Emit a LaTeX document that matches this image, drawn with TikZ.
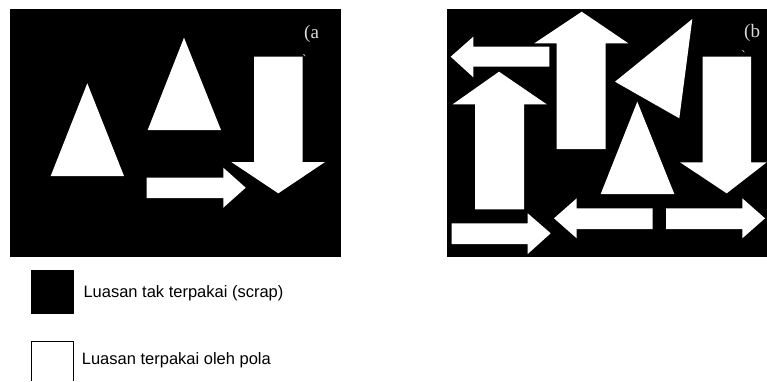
\documentclass[tikz,border=0pt]{standalone}
\usepackage{fontspec}
\setmainfont{Liberation Sans}
\newfontfamily\labfont{Liberation Serif}
\begin{document}
\begin{tikzpicture}[x=1pt,y=-1pt,
  sheet/.style={fill=black},
  piece/.style={fill=white},
  panellabel/.style={text=white!85!black,inner sep=0pt,anchor=west},
  legendtext/.style={font=\fontsize{16.5}{18}\selectfont,inner sep=0pt,anchor=west}]
\useasboundingbox (0,0) rectangle (767,381);
% ---------- panel (a) ----------
\fill[sheet] (10,9) rectangle (341,257);
\fill[piece] (87.3,83.3) -- (124,176) -- (50.7,176) -- cycle;
\fill[piece] (184,37.7) -- (221,130) -- (147.7,130) -- cycle;
\fill[piece] (254,56.7) -- (302.7,56.7) -- (302.7,162) -- (325,162) -- (278.3,193.3) -- (231.3,162) -- (254,162) -- cycle;
\fill[piece] (146.7,177.7) -- (223.3,177.7) -- (223.3,167.7) -- (245.7,187.7) -- (223.3,207.7) -- (223.3,198) -- (146.7,198) -- cycle;
\node[panellabel,font=\labfont\fontsize{19}{19}\selectfont] (la) at (304,34) {(a};
\node[panellabel,font=\labfont\fontsize{14}{14}\selectfont] (la2) at (302,60) {`};
% ---------- panel (b) ----------
\fill[sheet] (447.3,9.3) rectangle (767,257.3);
% left arrow top
\fill[piece] (450.7,56.7) -- (473.3,36.7) -- (473.3,46.7) -- (549.3,46.7) -- (549.3,66.7) -- (473.3,66.7) -- (473.3,77.3) -- cycle;
% big up arrow middle
\fill[piece] (581.7,11.7) -- (628.3,43.3) -- (605.7,43.3) -- (605.7,149) -- (556.7,149) -- (556.7,43.3) -- (534.3,43.3) -- cycle;
% rotated triangle
\fill[piece] (615,81.7) -- (692.3,19) -- (679.3,118.3) -- cycle;
% down arrow right
\fill[piece] (702.7,56.7) -- (751,56.7) -- (751,162.3) -- (766.7,162.3) -- (726.7,193.3) -- (680,162.3) -- (702.7,162.3) -- cycle;
% left big up arrow
\fill[piece] (499,71.7) -- (546.7,104.3) -- (524,104.3) -- (524,209.3) -- (475,209.3) -- (475,104.3) -- (452.7,104.3) -- cycle;
% upright triangle
\fill[piece] (637.3,101.7) -- (674.3,194) -- (600.7,194) -- cycle;
% bottom-left right arrow
\fill[piece] (451.7,223.3) -- (527.7,223.3) -- (527.7,213.3) -- (550.7,233.3) -- (527.7,254) -- (527.7,244) -- (451.7,244) -- cycle;
% bottom middle left arrow
\fill[piece] (554,218.3) -- (576.7,198.3) -- (576.7,208.3) -- (652.7,208.3) -- (652.7,229) -- (576.7,229) -- (576.7,238.3) -- cycle;
% bottom right right arrow
\fill[piece] (666,208.3) -- (742.3,208.3) -- (742.3,198.3) -- (765,218.3) -- (742.3,238.3) -- (742.3,229) -- (666,229) -- cycle;
\node[panellabel,font=\labfont\fontsize{19}{19}\selectfont] (lb) at (744,33) {(b};
\node[panellabel,font=\labfont\fontsize{14}{14}\selectfont] (lb2) at (741,56) {`};
% ---------- legend ----------
\fill[black] (30.7,270) rectangle (74,314.3);
\node[legendtext] (t1) at (83.3,293) {Luasan tak terpakai (scrap)};
\draw[black,line width=0.8pt] (31,381) -- (31,341) -- (73.3,341) -- (73.3,381);
\node[legendtext] (t2) at (81.7,360) {Luasan terpakai oleh pola};
\end{tikzpicture}
\end{document}
